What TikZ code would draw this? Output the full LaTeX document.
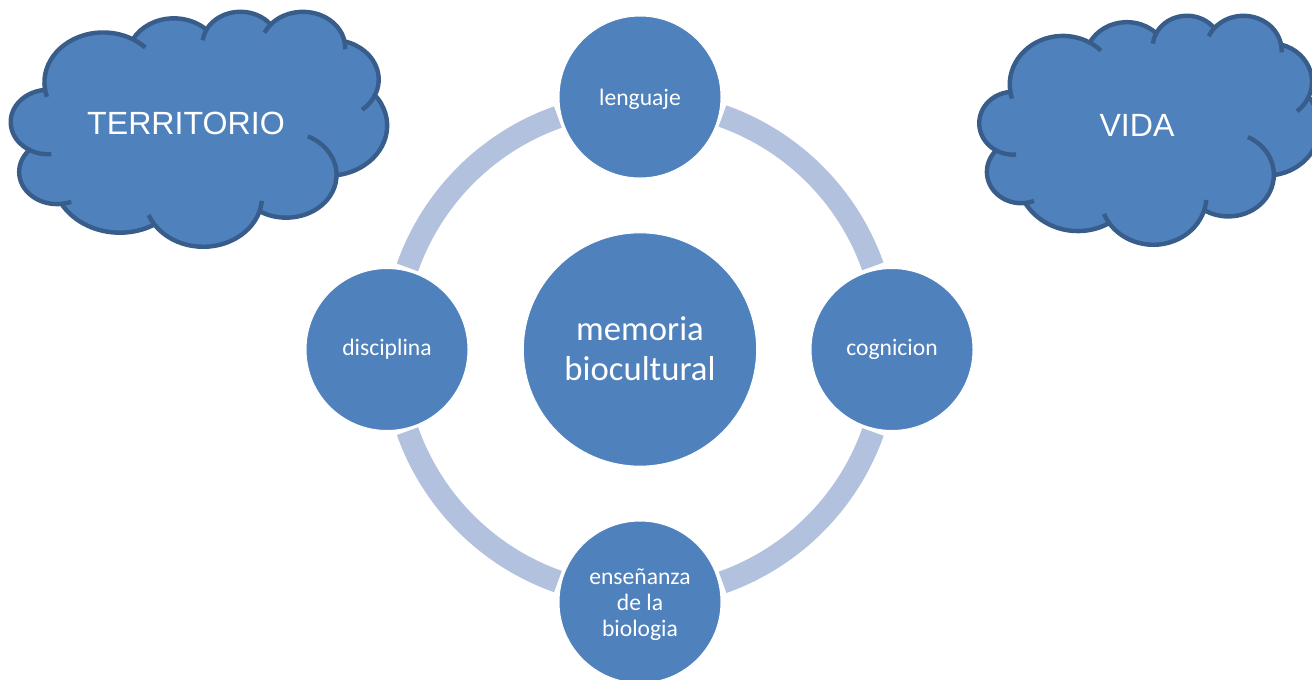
\documentclass[tikz,border=0pt]{standalone}
\usepackage{fontspec}
\setmainfont{Carlito}
\newfontfamily\cloudfont{Liberation Sans}
\definecolor{nodeblue}{HTML}{4F81BD}
\definecolor{cloudedge}{HTML}{385D8A}
\definecolor{ringblue}{HTML}{B2C1DD}
\newcommand\lowerline{\rule{0pt}{.92em}}
\tikzset{
  ball/.style={circle,fill=nodeblue,draw=white,line width=.75pt,inner sep=0pt,outer sep=2.7pt,
    text=white,align=center,minimum size=121.5pt},
  smallball/.style={ball,font=\fontsize{17.7}{19.5}\selectfont},
  bigball/.style={ball,minimum size=175pt,font=\fontsize{26}{30}\selectfont},
  ringarc/.style={draw=ringblue,line width=17pt,line cap=butt},
  cloudbody/.style={fill=nodeblue,draw=cloudedge,line width=3.3pt,line join=round},
  cloudhook/.style={draw=cloudedge,line width=3.3pt},
  cloudlabel/.style={text=white,font=\cloudfont\fontsize{24.1}{30}\selectfont,inner sep=0pt}
}
% parametric angles of the arcs of the cloud outline
\newcommand\arcdef[5]{%
  \pgfmathsetmacro\tmpS{atan2(#2*sin(#4),#3*cos(#4))}%
  \pgfmathsetmacro\tmpE{atan2(#2*sin(#4+#5),#3*cos(#4+#5))}%
  \pgfmathsetmacro\tmpE{\tmpE<\tmpS ? \tmpE+360 : \tmpE}%
  \global\expandafter\let\csname s#1\endcsname\tmpS
  \global\expandafter\let\csname e#1\endcsname\tmpE}
\newcommand\cloudshape[4]{%
  \begin{scope}[shift={(#1,#2)},x=#3*0.75pt/4320,y=-#4*0.75pt/4320]
  \draw[cloudbody] (390,1437)
    arc[x radius=675.3,y radius=919.0,start angle=\sA,end angle=\eA] coordinate (jA)
    arc[x radius=533.3,y radius=726.7,start angle=\sB,end angle=\eB] coordinate (jB)
    arc[x radius=436.5,y radius=594.5,start angle=\sC,end angle=\eC] coordinate (jC)
    arc[x radius=485.7,y radius=659.5,start angle=\sD,end angle=\eD] coordinate (jD)
    arc[x radius=533.3,y radius=727.3,start angle=\sE,end angle=\eE] coordinate (jE)
    arc[x radius=677.5,y radius=922.0,start angle=\sF,end angle=\eF] coordinate (jF)
    arc[x radius=578.5,y radius=786.7,start angle=\sG,end angle=\eG] coordinate (jG)
    arc[x radius=675.2,y radius=921.5,start angle=\sH,end angle=\eH] coordinate (jH)
    arc[x radius=772.0,y radius=1054.3,start angle=\sI,end angle=\eI] coordinate (jI)
    arc[x radius=436.0,y radius=591.8,start angle=\sJ,end angle=\eJ] coordinate (jJ)
    arc[x radius=434.5,y radius=594.5,start angle=\sK,end angle=\eK] -- cycle;
  \draw[cloudhook] (jJ) arc[x radius=434.5,y radius=594.5,start angle=\sK,end angle=\sK-34.85];
  \draw[cloudhook] (jI) arc[x radius=436.0,y radius=591.8,start angle=\sJ,end angle=\sJ-15.1];
  \draw[cloudhook] (jH) arc[x radius=675.2,y radius=921.5,start angle=\eH,end angle=\eH+12.2];
  \draw[cloudhook] (jG) arc[x radius=675.2,y radius=921.5,start angle=\sH,end angle=\sH-12.1];
  \draw[cloudhook] (jF) arc[x radius=578.5,y radius=786.7,start angle=\sG,end angle=\sG-65];
  \draw[cloudhook] (jE) arc[x radius=533.3,y radius=727.3,start angle=\eE,end angle=\eE+26.8];
  \draw[cloudhook] (jD) arc[x radius=485.7,y radius=659.5,start angle=\eD,end angle=\eD+12.7];
  \draw[cloudhook] (jC) arc[x radius=485.7,y radius=659.5,start angle=\sD,end angle=\sD-15.7];
  \draw[cloudhook] (jB) arc[x radius=436.5,y radius=594.5,start angle=\sC,end angle=\sC-19.7];
  \draw[cloudhook] (jA) arc[x radius=675.3,y radius=919.0,start angle=\eA,end angle=\eA+15.4];
  \draw[cloudhook] (390,1437) arc[x radius=675.3,y radius=919.0,start angle=\sA,end angle=\sA-9];
  \end{scope}}
\begin{document}
\begin{tikzpicture}[x=0.75pt,y=-0.75pt]
\useasboundingbox (0,0) rectangle (1312,679);
\clip (0,0) rectangle (1312,679);
\arcdef{A}{675.3}{919.0}{-190.487}{123.781}
\arcdef{B}{533.3}{726.7}{-144.102}{89.945}
\arcdef{C}{436.5}{594.5}{-145.808}{99.723}
\arcdef{D}{485.7}{659.5}{-130.986}{117.242}
\arcdef{E}{533.3}{727.3}{-78.709}{109.027}
\arcdef{F}{677.5}{922.0}{-46.267}{130.269}
\arcdef{G}{578.5}{786.7}{0.625}{114.033}
\arcdef{H}{675.2}{921.5}{22.452}{115.173}
\arcdef{I}{772.0}{1054.3}{66.243}{75.711}
\arcdef{J}{436.0}{591.8}{-274.942}{146.736}
\arcdef{K}{434.5}{594.5}{-246.829}{152.519}
% clouds
\cloudshape{11}{11}{376}{235}
\cloudshape{979.5}{15}{340}{229}
\node[cloudlabel] (territorio) at (186,123) {TERRITORIO};
\node[cloudlabel] (vida) at (1137,125) {VIDA};
% circles
\node[bigball] (memoria) at (640,349.5) {memoria\\biocultural\rule[-1.5pt]{0pt}{0pt}};
\node[smallball] (lenguaje) at (640,97) {\lowerline lenguaje};
\node[smallball] (cognicion) at (892,349.5) {cognicion};
\node[smallball] (biologia) at (640,602) {\lowerline enseñanza\\de la\\biologia};
\node[smallball] (disciplina) at (387,349.5) {disciplina};
% ring
\draw[ringarc] (lenguaje.-13.1) arc[radius=247,start angle=-70.5,end angle=-19.5];
\draw[ringarc] (cognicion.-103.1) arc[radius=247,start angle=19.5,end angle=70.5];
\draw[ringarc] (biologia.166.9) arc[radius=247,start angle=109.5,end angle=160.5];
\draw[ringarc] (disciplina.76.2) arc[radius=247,start angle=199.5,end angle=250.5];
\end{tikzpicture}
\end{document}
